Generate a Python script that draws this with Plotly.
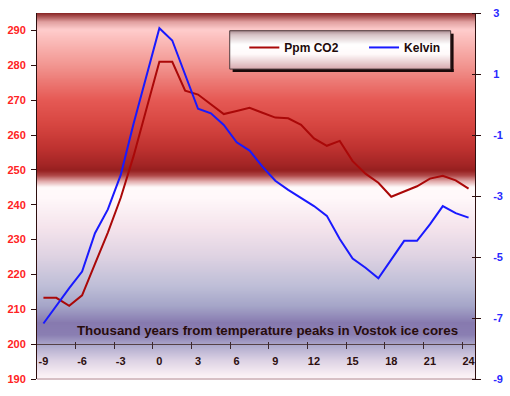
import base64
import struct
import zlib

import plotly.graph_objects as go

# ---------------- data ----------------
years = list(range(-9, 25))
co2_ppm = [213.3, 213.3, 211.0, 214.0, 223.0, 232.0, 242.0, 254.0, 267.5, 281.0,
           281.0, 272.7, 271.6, 268.7, 266.0, 266.9, 267.8, 266.4, 265.0, 264.8,
           262.9, 259.0, 256.9, 258.3, 252.5, 248.9, 246.3, 242.3, 243.8, 245.3,
           247.5, 248.3, 247.0, 244.6]
kelvin = [-7.18, -6.58, -6.02, -5.48, -4.22, -3.44, -2.31, -0.62, 0.98, 2.5,
          2.1, 0.95, -0.14, -0.29, -0.67, -1.24, -1.51, -2.04, -2.5, -2.8,
          -3.06, -3.33, -3.65, -4.41, -5.05, -5.35, -5.7, -5.07, -4.47, -4.47,
          -3.93, -3.33, -3.56, -3.71]

x_tick_vals = list(range(-9, 25, 3))
x_tick_text = [str(v) for v in x_tick_vals]
x_mark_vals = [v + 0.5 for v in range(-7, 24, 3)]  # tick marks between categories
left_ticks = list(range(190, 300, 10))
right_ticks = list(range(-9, 4, 2))
right_tick_text = [str(v) for v in right_ticks]

series_names = ["Ppm CO2", "Kelvin"]
x_title = "Thousand years from temperature peaks in Vostok ice cores"

# ---------------- geometry / style ----------------
W, H = 510, 396
ML, MR, MT, MB = 35, 25, 7, 17
PW, PH = W - ML - MR, H - MT - MB
FONT = "Liberation Sans, Arial, sans-serif"


def px_x(p):
    return (p - ML) / PW


def px_y(p):
    return (H - MB - p) / PH


def png_uri(rows, width=2):
    raw = b"".join(b"\x00" + bytes(c) * width for c in rows)

    def chunk(tag, data):
        return (struct.pack(">I", len(data)) + tag + data
                + struct.pack(">I", zlib.crc32(tag + data) & 0xFFFFFFFF))

    png = (b"\x89PNG\r\n\x1a\n"
           + chunk(b"IHDR", struct.pack(">IIBBBBB", width, len(rows), 8, 2, 0, 0, 0))
           + chunk(b"IDAT", zlib.compress(raw, 9))
           + chunk(b"IEND", b""))
    return "data:image/png;base64," + base64.b64encode(png).decode()


def gradient_rows(stops, y0, y1):
    rows = []
    for yy in range(y0, y1):
        y = yy + 0.5
        for (ya, ca), (yb, cb) in zip(stops[:-1], stops[1:]):
            if ya <= y <= yb:
                t = (y - ya) / (yb - ya) if yb > ya else 0
                rows.append(tuple(int(round(a + (b - a) * t)) for a, b in zip(ca, cb)))
                break
        else:
            rows.append(stops[0][1] if y < stops[0][0] else stops[-1][1])
    return rows


bg_stops = [
    (7, (135, 35, 35)), (10, (165, 75, 75)), (16, (225, 160, 160)),
    (24, (255, 205, 205)), (32, (252, 192, 190)), (60, (242, 150, 145)),
    (95, (230, 90, 85)), (120, (215, 70, 65)), (145, (190, 50, 48)),
    (160, (165, 38, 38)), (167, (150, 32, 32)), (172, (175, 70, 70)),
    (178, (225, 170, 170)), (184, (255, 250, 250)), (195, (255, 248, 250)),
    (225, (245, 228, 236)), (255, (222, 210, 226)), (285, (190, 190, 215)),
    (305, (165, 165, 200)), (322, (135, 122, 175)), (334, (138, 126, 178)),
    (345, (175, 170, 205)), (360, (220, 210, 228)), (375, (250, 240, 245)),
    (379, (252, 245, 248)),
]
LEG_L, LEG_R, LEG_T, LEG_B = 233, 460, 25, 64
leg_stops = [
    (LEG_T, (170, 140, 145)), (LEG_T + 4, (215, 195, 198)), (LEG_T + 14, (255, 255, 255)),
    (LEG_T + 24, (255, 250, 250)), (LEG_B, (215, 170, 175)),
]

red = "rgb(170,8,8)"
blue = "rgb(25,25,255)"
dark = "rgb(45,15,15)"

fig = go.Figure()
fig.add_trace(go.Scatter(x=years, y=co2_ppm, name=series_names[0], mode="lines",
                         line=dict(color=red, width=2), yaxis="y", legend="legend"))
fig.add_trace(go.Scatter(x=years, y=kelvin, name=series_names[1], mode="lines",
                         line=dict(color=blue, width=2), yaxis="y2", legend="legend2"))
# empty helper traces so the tick-mark axes are drawn
fig.add_trace(go.Scatter(x=[], y=[], xaxis="x2", yaxis="y", showlegend=False, hoverinfo="skip"))
fig.add_trace(go.Scatter(x=[], y=[], xaxis="x", yaxis="y3", showlegend=False, hoverinfo="skip"))

y_left_range = [190, 295]
x_range = [-9.5, 24.5]
x_axis_pos = (200 - y_left_range[0]) / (y_left_range[1] - y_left_range[0])

tick_font = dict(family=FONT, size=11, color=dark, weight="bold")
legend_font = dict(family=FONT, size=12, color="rgb(30,10,10)", weight="bold")

fig.update_layout(
    width=W, height=H, autosize=False,
    margin=dict(l=ML, r=MR, t=MT, b=MB, pad=0),
    paper_bgcolor="white", plot_bgcolor="rgba(0,0,0,0)",
    font=dict(family=FONT),
    xaxis=dict(range=x_range, anchor="free", position=x_axis_pos,
               tickvals=x_tick_vals, ticktext=x_tick_text, ticks="",
               showline=True, linecolor="rgb(85,65,70)", linewidth=1,
               showgrid=False, zeroline=False, tickfont=tick_font,
               ticklabelstandoff=7, fixedrange=True),
    xaxis2=dict(range=x_range, overlaying="x", anchor="free",
                position=x_axis_pos + 3.3 / PH, tickvals=x_mark_vals,
                ticks="outside", ticklen=7, tickcolor="rgb(60,40,45)", tickwidth=1,
                showticklabels=False, showline=False, showgrid=False, zeroline=False),
    yaxis=dict(range=y_left_range, tickvals=left_ticks, ticks="outside", ticklen=5,
               tickcolor=dark, showline=True, linecolor=dark, linewidth=1,
               showgrid=False, zeroline=False, ticklabelstandoff=3,
               tickfont=dict(family=FONT, size=11, color="rgb(255,35,35)", weight="bold")),
    yaxis2=dict(range=[-9, 3], overlaying="y", side="right", anchor="x",
                tickvals=right_ticks, ticktext=right_tick_text, ticks="",
                showline=True, linecolor=dark,
                linewidth=1, showgrid=False, zeroline=False, ticklabelstandoff=15,
                tickfont=dict(family=FONT, size=11, color="rgb(40,40,255)", weight="bold")),
    yaxis3=dict(range=[-9, 3], overlaying="y", side="right", anchor="free",
                position=px_x(481), tickvals=right_ticks, ticks="outside", ticklen=9,
                tickcolor=dark, showticklabels=False, showline=False,
                showgrid=False, zeroline=False),
    legend=dict(x=px_x(248), y=px_y(42), xanchor="left", yanchor="middle",
                bgcolor="rgba(0,0,0,0)", borderwidth=0, font=legend_font),
    legend2=dict(x=px_x(371), y=px_y(42), xanchor="left", yanchor="middle",
                 bgcolor="rgba(0,0,0,0)", borderwidth=0, font=legend_font),
    images=[
        dict(source=png_uri(gradient_rows(bg_stops, MT, H - MB)), xref="paper", yref="paper",
             x=0, y=1, sizex=1, sizey=1, xanchor="left", yanchor="top",
             sizing="stretch", layer="below"),
        dict(source=png_uri(gradient_rows(leg_stops, LEG_T, LEG_B)), xref="paper", yref="paper",
             x=px_x(LEG_L), y=px_y(LEG_T), sizex=(LEG_R - LEG_L) / PW,
             sizey=(LEG_B - LEG_T) / PH, xanchor="left", yanchor="top",
             sizing="stretch", layer="below"),
    ],
    shapes=[
        # legend shadow
        dict(type="rect", xref="paper", yref="paper", x0=px_x(LEG_R), x1=px_x(LEG_R + 3),
             y0=px_y(LEG_B + 3), y1=px_y(LEG_T + 3), fillcolor="rgb(25,10,10)",
             line=dict(width=0), layer="below"),
        dict(type="rect", xref="paper", yref="paper", x0=px_x(LEG_L + 3), x1=px_x(LEG_R + 3),
             y0=px_y(LEG_B + 3), y1=px_y(LEG_B), fillcolor="rgb(25,10,10)",
             line=dict(width=0), layer="below"),
        # legend border
        dict(type="rect", xref="paper", yref="paper", x0=px_x(LEG_L), x1=px_x(LEG_R),
             y0=px_y(LEG_B), y1=px_y(LEG_T), line=dict(color="rgb(80,60,62)", width=1),
             fillcolor="rgba(0,0,0,0)", layer="below"),
        # light bottom border of plot area
        dict(type="line", xref="paper", yref="paper", x0=0, x1=1, y0=0, y1=0,
             line=dict(color="rgb(215,192,197)", width=2), layer="below"),
    ],
    annotations=[
        dict(text=x_title, xref="paper", yref="paper", x=px_x(271.5), y=px_y(330),
             xanchor="center", yanchor="middle", showarrow=False,
             font=dict(family=FONT, size=13.3, color="rgb(40,12,12)", weight="bold")),
    ],
    showlegend=True,
)

fig.write_html("out.html", config={"displayModeBar": False},
               post_script="document.body.style.margin='0';document.body.style.overflow='hidden';")
